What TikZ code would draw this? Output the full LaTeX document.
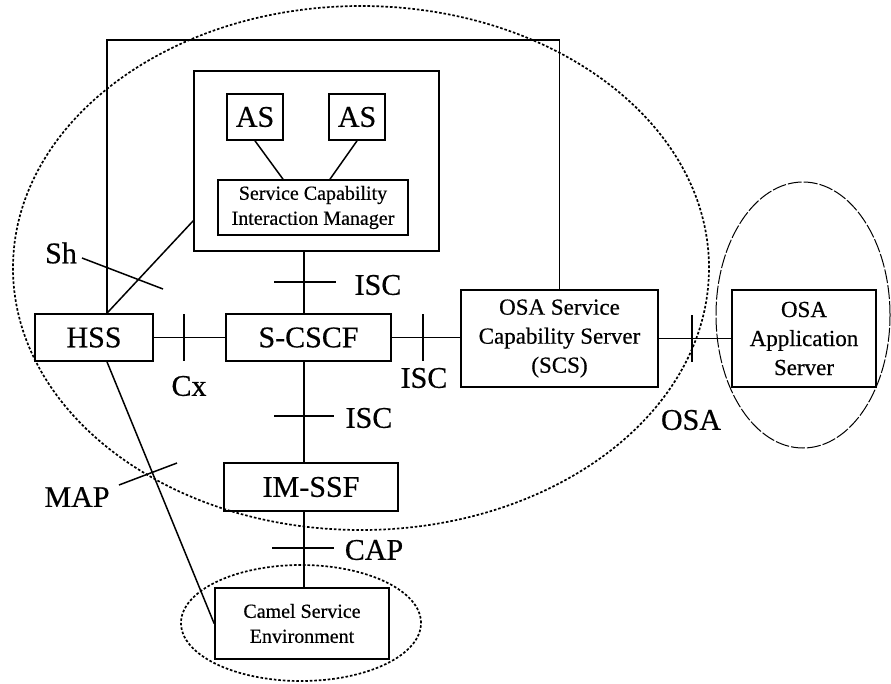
\documentclass[tikz,border=0pt]{standalone}
\usepackage{fontspec}
\setmainfont{Liberation Serif}[FakeBold=0.5]
\usetikzlibrary{calc}
\begin{document}
\begin{tikzpicture}[x=1pt,y=-1pt,
  box/.style={draw,line width=1.7pt,inner sep=0pt,align=center},
  bigtxt/.style={font=\fontsize{30}{32}\selectfont},
  midtxt/.style={font=\fontsize{23}{29}\selectfont},
  smalltxt/.style={font=\fontsize{20}{25}\selectfont},
  lbl/.style={inner sep=0pt,font=\fontsize{30}{32}\selectfont},
  link/.style={line width=1.5pt},
  tick/.style={line width=1.5pt},
  dotring/.style={line width=1.7pt,dash pattern=on 2.6pt off 1.9pt},
  dashring/.style={line width=1pt,dash pattern=on 14pt off 2pt},
]
\useasboundingbox (0,0) rectangle (891,683);

% functional entities
\node[box,bigtxt,minimum width=118pt,minimum height=47pt] (hss) at (94,337.5) {HSS};
\node[box,bigtxt,minimum width=165pt,minimum height=47pt] (scscf) at (308.5,337.5) {S-CSCF};
\node[box,bigtxt,minimum width=174pt,minimum height=48pt] (imssf) at (311,487) {IM-SSF};
\node[box,smalltxt,minimum width=174pt,minimum height=71pt] (camel) at (302,623.5) {Camel Service\\Environment};
\node[box,midtxt,minimum width=197pt,minimum height=97pt] (scs) at (559.5,338.5) {OSA Service\\Capability Server\\(SCS)};
\node[box,midtxt,minimum width=144pt,minimum height=97pt] (osaas) at (804,338.5) {OSA\\Application\\Server};

% application server block
\node[box,minimum width=245pt,minimum height=180pt] (svcbox) at (316.5,161) {};
\node[box,bigtxt,minimum width=56pt,minimum height=46pt] (as1) at (255,117) {AS};
\node[box,bigtxt,minimum width=56pt,minimum height=46pt] (as2) at (357,117) {AS};
\node[box,smalltxt,minimum width=190pt,minimum height=55pt] (scim) at (313,207.5) {Service Capability\\Interaction Manager};

% helper points
\coordinate (spine) at (304,0);
\coordinate (frametop) at (0,40);
\coordinate (hsstop) at ($(hss.north)+(13,0)$);
\coordinate (hssbot) at ($(hss.south)+(13,0)$);

% connectors
\draw[link] (as1.south) -- ($(scim.north)+(-30,0)$);
\draw[link] (as2.south) -- ($(scim.north)+(17,0)$);
\draw[link] (svcbox.south -| spine) -- (scscf.north -| spine);
\draw[link] (scscf.south -| spine) -- (imssf.north -| spine);
\draw[link] (imssf.south -| spine) -- (camel.north -| spine);
\draw[link] (hss.east) -- (scscf.west);
\draw[link] (scscf.east) -- (scscf.east -| scs.west);
\draw[link] (scs.east) -- (osaas.west);
\draw[link] (hsstop) -- (hsstop |- frametop) -- (scs.north |- frametop) -- (scs.north);
\draw[link] ($(svcbox.south west)+(0,-31)$) -- (hsstop);
\draw[link] (hssbot) -- (camel.west);

% reference point ticks
\draw[tick] (82,258) -- (163,289);
\draw[tick] (274,282) -- (336,282);
\draw[tick] (184,314) -- (184,361);
\draw[tick] (423,314) -- (423,361);
\draw[tick] (274,416) -- (334,416);
\draw[tick] (119,485) -- (177,463);
\draw[tick] (272,548) -- (334,548);
\draw[tick] (692,315) -- (692,362);

% reference point labels
\node[lbl] (lsh) at (61,253) {Sh};
\node[lbl] (lisc1) at (378,285) {ISC};
\node[lbl] (lcx) at (189,386) {Cx};
\node[lbl] (lisc2) at (424,378) {ISC};
\node[lbl] (lisc3) at (369,418) {ISC};
\node[lbl] (lmap) at (77,497) {MAP};
\node[lbl] (lcap) at (374,550) {CAP};
\node[lbl] (losa) at (691,420) {OSA};

% domain outlines
\draw[dotring] (361,268) ellipse [x radius=348pt, y radius=262pt];
\draw[dotring] (301,623) ellipse [x radius=120pt, y radius=58pt];
\draw[dashring] (803,315) ellipse [x radius=87pt, y radius=133pt];
\end{tikzpicture}
\end{document}
